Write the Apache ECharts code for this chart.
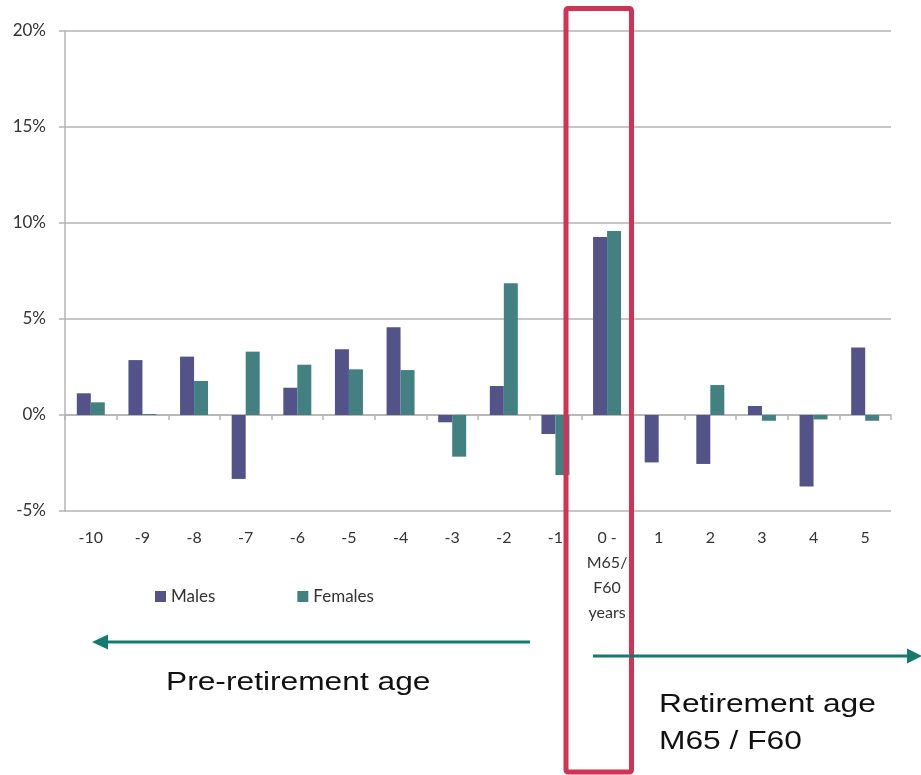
<!DOCTYPE html>
<html>
<head>
<meta charset="utf-8">
<title>Change by age relative to retirement</title>
<script src="https://cdn.jsdelivr.net/npm/echarts@6/dist/echarts.min.js"></script>
<style>
  html, body { margin: 0; padding: 0; background: #ffffff; }
  #chart { width: 921px; height: 775px; }
</style>
</head>
<body>
<div id="chart"></div>
<script>
// Years relative to state retirement age
const categories = ['-10', '-9', '-8', '-7', '-6', '-5', '-4', '-3', '-2', '-1',
  '0 -\nM65/\nF60\nyears', '1', '2', '3', '4', '5'];

// Percentage change, males and females
const males   = [1.13, 2.86, 3.04, -3.33, 1.42, 3.42, 4.57, -0.38, 1.51, -0.99, 9.27, -2.47, -2.55, 0.47, -3.73, 3.51];
const females = [0.66, 0.05, 1.77, 3.30, 2.62, 2.38, 2.34, -2.17, 6.86, -3.13, 9.58, 0.00, 1.56, -0.30, -0.23, -0.30];

// Value axis range (percent)
const yMin = -5, yMax = 20, yStep = 5;

const seriesNames = ['Males', 'Females'];
const COLOR_M = '#535389';
const COLOR_F = '#438081';
const TEAL = '#157a6f';
const RED = '#cf3456';
const LABEL_FONT = 'Lato, "Open Sans", sans-serif';
const NOTE_FONT = '"Liberation Sans", Arial, sans-serif';

const chart = echarts.init(document.getElementById('chart'), null, { renderer: 'canvas' });

chart.setOption({
  backgroundColor: '#ffffff',
  animation: false,
  grid: { left: 65, right: 30, top: 31, bottom: 264, containLabel: false },
  legend: {
    data: seriesNames,
    left: 150,
    top: 583,
    icon: 'rect',
    itemWidth: 11,
    itemHeight: 11,
    itemGap: 82,
    itemStyle: { borderWidth: 0 },
    textStyle: { fontFamily: LABEL_FONT, fontSize: 17, color: '#333333' }
  },
  xAxis: [
    {
      type: 'category',
      data: categories,
      position: 'bottom',
      axisLine: { show: false, onZero: false },
      axisTick: { show: false },
      axisLabel: {
        interval: 0,
        margin: 14,
        fontFamily: LABEL_FONT,
        fontSize: 16,
        color: '#333333',
        lineHeight: 25
      },
      splitLine: { show: false }
    },
    {
      // zero line with category tick marks
      type: 'category',
      data: categories,
      position: 'bottom',
      axisLine: { show: true, onZero: true, lineStyle: { color: '#b4b4b4', width: 1.5 } },
      axisTick: { show: true, length: 5, lineStyle: { color: '#b4b4b4', width: 1.5 } },
      axisLabel: { show: false },
      splitLine: { show: false }
    }
  ],
  yAxis: {
    type: 'value',
    min: yMin,
    max: yMax,
    interval: yStep,
    axisLine: { show: true, lineStyle: { color: '#b4b4b4', width: 1.5 } },
    axisTick: { show: true, length: 6, lineStyle: { color: '#b4b4b4', width: 1.5 } },
    axisLabel: {
      formatter: '{value}%',
      margin: 19,
      fontFamily: LABEL_FONT,
      fontSize: 17,
      color: '#333333'
    },
    splitLine: { show: true, lineStyle: { color: '#b4b4b4', width: 1.5 } }
  },
  series: [
    {
      name: seriesNames[0],
      type: 'bar',
      xAxisIndex: 0,
      data: males,
      barWidth: 14,
      barGap: '0%',
      itemStyle: { color: COLOR_M }
    },
    {
      name: seriesNames[1],
      type: 'bar',
      xAxisIndex: 0,
      data: females,
      barWidth: 14,
      barGap: '0%',
      itemStyle: { color: COLOR_F }
    }
  ],
  graphic: [
    // Highlight frame around the retirement-age column
    {
      type: 'rect',
      z: 100,
      shape: { x: 566, y: 8.5, width: 65.5, height: 763.5, r: 2 },
      style: { fill: 'none', stroke: RED, lineWidth: 5 }
    },
    // Pre-retirement arrow (pointing left)
    {
      type: 'line',
      z: 100,
      shape: { x1: 530, y1: 642, x2: 106, y2: 642 },
      style: { stroke: TEAL, lineWidth: 3 }
    },
    {
      type: 'polygon',
      z: 100,
      shape: { points: [[92, 642], [108, 634.5], [108, 649.5]] },
      style: { fill: TEAL }
    },
    // Retirement arrow (pointing right)
    {
      type: 'line',
      z: 100,
      shape: { x1: 593, y1: 656, x2: 910, y2: 656 },
      style: { stroke: TEAL, lineWidth: 3 }
    },
    {
      type: 'polygon',
      z: 100,
      shape: { points: [[922, 656], [907, 648.5], [907, 663.5]] },
      style: { fill: TEAL }
    },
    {
      type: 'text',
      z: 100,
      x: 166,
      y: 670,
      scaleX: 1.22,
      style: { text: 'Pre-retirement age', font: '26px ' + NOTE_FONT, fill: '#111111' }
    },
    {
      type: 'text',
      z: 100,
      x: 659,
      y: 686,
      scaleX: 1.22,
      style: { text: 'Retirement age\nM65 / F60', font: '26px ' + NOTE_FONT, fill: '#111111', lineHeight: 37 }
    }
  ]
});
</script>
</body>
</html>
